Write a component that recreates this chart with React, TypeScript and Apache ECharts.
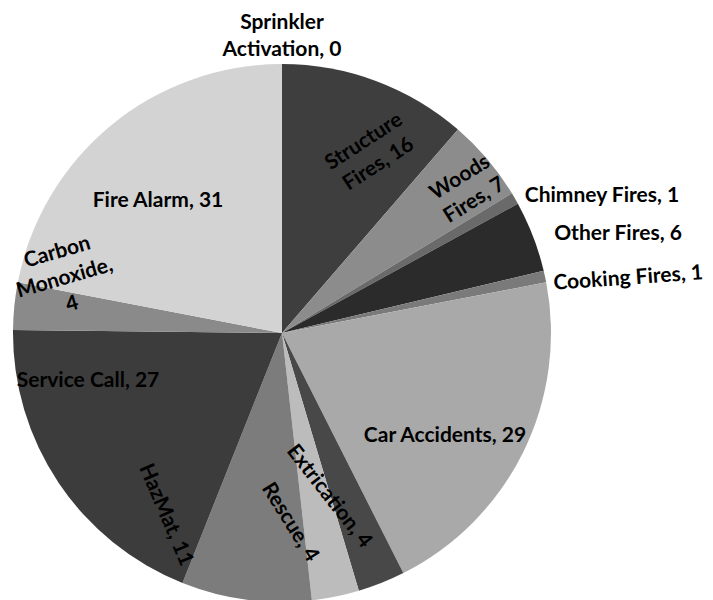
import React, { useEffect, useRef } from "react";
import * as echarts from "echarts";

const categories = [
  "Sprinkler Activation",
  "Structure Fires",
  "Woods Fires",
  "Chimney Fires",
  "Other Fires",
  "Cooking Fires",
  "Car Accidents",
  "Extrication",
  "Rescue",
  "HazMat",
  "Service Call",
  "Carbon Monoxide",
  "Fire Alarm",
];
const values = [0, 16, 7, 1, 6, 1, 29, 4, 4, 11, 27, 4, 31];
const colors = [
  "#555555",
  "#3e3e3e",
  "#8c8c8c",
  "#6a6a6a",
  "#2b2b2b",
  "#7a7a7a",
  "#a9a9a9",
  "#484848",
  "#bcbcbc",
  "#7c7c7c",
  "#3c3c3c",
  "#8a8a8a",
  "#d3d3d3",
];
// label texts (category, value) with their placement
const labelTexts = [
  "Sprinkler\nActivation, 0",
  "Structure\nFires, 16",
  "Woods\nFires, 7",
  "Chimney Fires, 1",
  "Other Fires, 6",
  "Cooking Fires, 1",
  "Car Accidents, 29",
  "Extrication, 4",
  "Rescue, 4",
  "HazMat, 11",
  "Service Call, 27",
  "Carbon\nMonoxide,\n4",
  "Fire Alarm, 31",
];
const labelLayout = [
  { x: 282, y: 34, rot: 0 },
  { x: 370, y: 151, rot: 33 },
  { x: 466, y: 187, rot: 32 },
  { x: 602, y: 193, rot: 0 },
  { x: 618, y: 231, rot: 0 },
  { x: 628, y: 276, rot: 4 },
  { x: 445, y: 433, rot: 0 },
  { x: 331, y: 495, rot: -52 },
  { x: 292, y: 521, rot: -58 },
  { x: 168, y: 514, rot: -67 },
  { x: 88, y: 378, rot: 0 },
  { x: 64, y: 276, rot: 16 },
  { x: 158, y: 198, rot: 0 },
];

const FONT = "Lato, 'Open Sans', sans-serif";

export default function App() {
  const ref = useRef<HTMLDivElement>(null);
  useEffect(() => {
    if (!ref.current) return;
    const chart = echarts.init(ref.current, undefined, { renderer: "svg" });
    chart.setOption({
      animation: false,
      backgroundColor: "#ffffff",
      series: [
        {
          type: "pie",
          center: [282, 333],
          radius: 269,
          startAngle: 90,
          clockwise: true,
          avoidLabelOverlap: false,
          label: { show: false },
          labelLine: { show: false },
          emphasis: { disabled: true },
          itemStyle: { borderWidth: 0 },
          data: categories.map((c, i) => ({
            name: c,
            value: values[i],
            itemStyle: { color: colors[i] },
          })),
        },
      ],
      graphic: labelTexts.map((t, i) => ({
        type: "text",
        x: labelLayout[i].x,
        y: labelLayout[i].y,
        rotation: (labelLayout[i].rot * Math.PI) / 180,
        silent: true,
        z: 100,
        style: {
          text: t,
          fill: "#000000",
          fontSize: 21,
          fontWeight: "bold",
          fontFamily: FONT,
          lineHeight: 27,
          align: "center",
          verticalAlign: "middle",
        },
      })),
    });
    return () => chart.dispose();
  }, []);
  return (
    <div
      ref={ref}
      style={{ position: "absolute", left: 0, top: 0, width: 713, height: 600 }}
    />
  );
}
